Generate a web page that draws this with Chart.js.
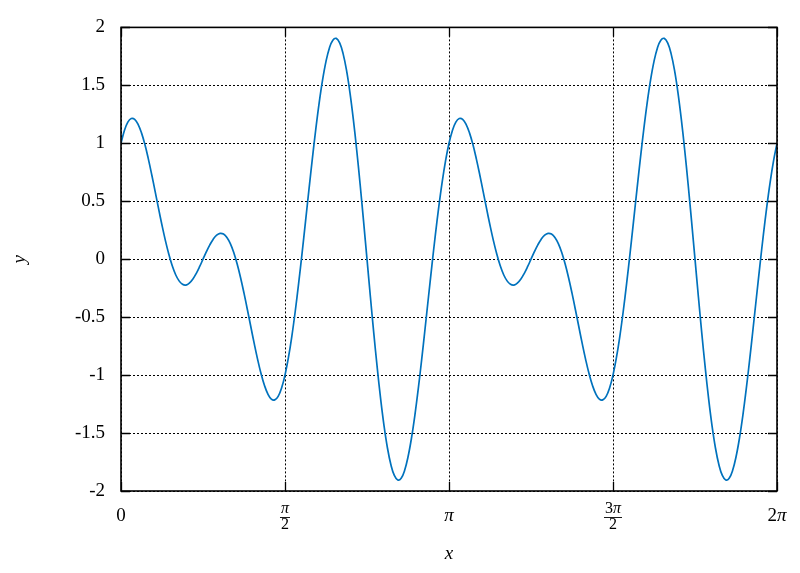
<!DOCTYPE html>
<html>
<head>
<meta charset="utf-8">
<script src="https://cdn.jsdelivr.net/npm/chart.js@4/dist/chart.umd.min.js"></script>
<style>
html,body{margin:0;padding:0;background:#fff;}
#wrap{width:800px;height:573px;position:relative;}
</style>
</head>
<body>
<div id="wrap"><canvas id="c" width="800" height="573"></canvas></div>
<script>
// sample positions: 193 samples over [0, 2π] (step π/96)
const sampleCount = 193;
const xValues = Array.from({length: sampleCount}, (_, i) => i * Math.PI / 96);

// curve values
const yValues = [
  1.000, 1.111, 1.183, 1.214, 1.207, 1.164, 1.090, 0.989, 0.866, 0.729, 0.583, 0.436,
  0.293, 0.160, 0.042, -0.057, -0.134, -0.187, -0.217, -0.223, -0.207, -0.173, -0.124, -0.065,
  0.000, 0.065, 0.124, 0.173, 0.207, 0.223, 0.217, 0.187, 0.134, 0.057, -0.042, -0.160,
  -0.293, -0.436, -0.583, -0.729, -0.866, -0.989, -1.090, -1.164, -1.207, -1.214, -1.183, -1.111,
  -1.000, -0.850, -0.665, -0.449, -0.207, 0.053, 0.324, 0.598, 0.866, 1.119, 1.349, 1.547,
  1.707, 1.823, 1.890, 1.905, 1.866, 1.774, 1.631, 1.440, 1.207, 0.938, 0.642, 0.326,
  0.000, -0.326, -0.642, -0.938, -1.207, -1.440, -1.631, -1.774, -1.866, -1.905, -1.890, -1.823,
  -1.707, -1.547, -1.349, -1.119, -0.866, -0.598, -0.324, -0.053, 0.207, 0.449, 0.665, 0.850,
  1.000, 1.111, 1.183, 1.214, 1.207, 1.164, 1.090, 0.989, 0.866, 0.729, 0.583, 0.436,
  0.293, 0.160, 0.042, -0.057, -0.134, -0.187, -0.217, -0.223, -0.207, -0.173, -0.124, -0.065,
  0.000, 0.065, 0.124, 0.173, 0.207, 0.223, 0.217, 0.187, 0.134, 0.057, -0.042, -0.160,
  -0.293, -0.436, -0.583, -0.729, -0.866, -0.989, -1.090, -1.164, -1.207, -1.214, -1.183, -1.111,
  -1.000, -0.850, -0.665, -0.449, -0.207, 0.053, 0.324, 0.598, 0.866, 1.119, 1.349, 1.547,
  1.707, 1.823, 1.890, 1.905, 1.866, 1.774, 1.631, 1.440, 1.207, 0.938, 0.642, 0.326,
  0.000, -0.326, -0.642, -0.938, -1.207, -1.440, -1.631, -1.774, -1.866, -1.905, -1.890, -1.823,
  -1.707, -1.547, -1.349, -1.119, -0.866, -0.598, -0.324, -0.053, 0.207, 0.449, 0.665, 0.850,
  1.000
];

const xTickValues = [0, Math.PI / 2, Math.PI, 3 * Math.PI / 2, 2 * Math.PI];
const xTickLabels = ['0', ['π', '2'], 'π', ['3π', '2'], '2π'];
const yTickValues = [-2, -1.5, -1, -0.5, 0, 0.5, 1, 1.5, 2];
const yTickLabels = ['-2', '-1.5', '-1', '-0.5', '0', '0.5', '1', '1.5', '2'];
const xTitle = 'x';
const yTitle = 'y';

const FONT = '"Liberation Serif", "Times New Roman", serif';

function drawRun(ctx, text, cx, cy, size) {
  // digits upright, π and letters italic
  const parts = [...text].map(ch => ({ch, font: (/[0-9.\-]/.test(ch) ? '' : 'italic ') + size + 'px ' + FONT}));
  let total = 0;
  parts.forEach(p => { ctx.font = p.font; p.w = ctx.measureText(p.ch).width; total += p.w; });
  let x = cx - total / 2;
  ctx.textAlign = 'left';
  ctx.textBaseline = 'middle';
  parts.forEach(p => { ctx.font = p.font; ctx.fillText(p.ch, x, cy); x += p.w; });
  return total;
}

const framePlugin = {
  id: 'frame',
  afterDraw(chart) {
    const {ctx, chartArea: a, scales: {x, y}} = chart;
    ctx.save();
    ctx.setLineDash([]);
    ctx.strokeStyle = '#000';
    ctx.lineWidth = 1.3;
    ctx.beginPath();
    xTickValues.forEach(v => {
      const px = Math.round(x.getPixelForValue(v)) + 0.5;
      ctx.moveTo(px, a.bottom); ctx.lineTo(px, a.bottom - 9);
      ctx.moveTo(px, a.top); ctx.lineTo(px, a.top + 9);
    });
    yTickValues.forEach(v => {
      const py = Math.round(y.getPixelForValue(v)) + 0.5;
      ctx.moveTo(a.left, py); ctx.lineTo(a.left + 9, py);
      ctx.moveTo(a.right, py); ctx.lineTo(a.right - 9, py);
    });
    ctx.stroke();
    ctx.lineWidth = 1.6;
    ctx.strokeRect(a.left, a.top, a.right - a.left, a.bottom - a.top);

    ctx.fillStyle = '#000';
    xTickValues.forEach((v, i) => {
      const px = x.getPixelForValue(v);
      const lab = xTickLabels[i];
      if (Array.isArray(lab)) {
        const w1 = drawRun(ctx, lab[0], px, a.bottom + 18, 16);
        const w2 = drawRun(ctx, lab[1], px, a.bottom + 34, 16);
        const w = Math.max(w1, w2) + 2;
        ctx.lineWidth = 0.9;
        ctx.beginPath();
        ctx.moveTo(px - w / 2, a.bottom + 26.5);
        ctx.lineTo(px + w / 2, a.bottom + 26.5);
        ctx.stroke();
      } else {
        drawRun(ctx, lab, px, a.bottom + 25, 19);
      }
    });
    // axis titles
    const midX = (a.left + a.right) / 2;
    drawRun(ctx, xTitle, midX, a.bottom + 63, 19);
    ctx.save();
    ctx.translate(20, (a.top + a.bottom) / 2);
    ctx.rotate(-Math.PI / 2);
    drawRun(ctx, yTitle, 0, 0, 19);
    ctx.restore();
    ctx.restore();
  }
};

new Chart(document.getElementById('c'), {
  type: 'line',
  data: {
    datasets: [{
      data: xValues.map((xv, i) => ({x: xv, y: yValues[i]})),
      borderColor: '#0072BD',
      borderWidth: 1.7,
      pointRadius: 0,
      tension: 0.4,
      fill: false
    }]
  },
  options: {
    responsive: false,
    animation: false,
    devicePixelRatio: 1,
    layout: {padding: {top: 25, right: 23, bottom: 82, left: 0}},
    plugins: {legend: {display: false}, tooltip: {enabled: false}},
    scales: {
      x: {
        type: 'linear',
        min: 0,
        max: 2 * Math.PI,
        afterBuildTicks: s => { s.ticks = xTickValues.map(v => ({value: v})); },
        afterFit: s => { s.height = 0; },
        ticks: {display: false},
        grid: {color: '#000', lineWidth: 1, drawTicks: false},
        border: {display: false, dash: [2, 2]}
      },
      y: {
        type: 'linear',
        min: -2,
        max: 2,
        afterBuildTicks: s => { s.ticks = yTickValues.map(v => ({value: v})); },
        afterFit: s => { s.width = 121; },
        ticks: {
          padding: 16,
          color: '#000',
          font: {family: FONT, size: 19},
          callback: v => { const i = yTickValues.findIndex(t => Math.abs(t - v) < 1e-9); return i >= 0 ? yTickLabels[i] : ''; }
        },
        grid: {color: '#000', lineWidth: 1, drawTicks: false},
        border: {display: false, dash: [2, 2]}
      }
    }
  },
  plugins: [framePlugin]
});
</script>
</body>
</html>
